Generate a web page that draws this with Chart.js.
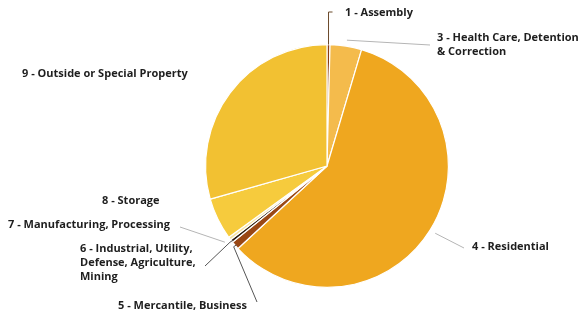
<!DOCTYPE html>
<html>
<head>
<meta charset="utf-8">
<script src="https://cdn.jsdelivr.net/npm/chart.js@4.4.0/dist/chart.umd.min.js"></script>
<style>
  html, body { margin: 0; padding: 0; background: #fff; }
  #wrap { width: 578px; height: 315px; position: relative; }
</style>
</head>
<body>
<div id="wrap"><canvas id="chart"></canvas></div>
<script>
// occupancy categories, clockwise from 12 o'clock
const categories = [
  "1 - Assembly",
  "3 - Health Care, Detention & Correction",
  "4 - Residential",
  "5 - Mercantile, Business",
  "6 - Industrial, Utility, Defense, Agriculture, Mining",
  "7 - Manufacturing, Processing",
  "8 - Storage",
  "9 - Outside or Special Property"
];
// share of fires, percent
const shares = [0.4, 4.2, 58.5, 1.1, 0.4, 0.4, 5.6, 29.4];
const sliceColors = ["#8a3d12", "#f4bb4c", "#efa71f", "#9a4815", "#2b1a0c", "#f6e3a0", "#f6cb3d", "#f2c132"];

// label placement: text lines, left x, first line centre y, leader end (null = none)
const labelSpots = [
  { lines: ["1 - Assembly"], x: 345, y: 13, leader: "top" },
  { lines: ["3 - Health Care, Detention", "& Correction"], x: 437, y: 38, leader: [430, 45], grey: true },
  { lines: ["4 - Residential"], x: 472, y: 247, leader: [464, 248], grey: true },
  { lines: ["5 - Mercantile, Business"], x: 118, y: 306, leader: [257, 302] },
  { lines: ["6 - Industrial, Utility,", "Defense, Agriculture,", "Mining"], x: 80, y: 249, leader: [205, 266] },
  { lines: ["7 - Manufacturing, Processing"], x: 8, y: 225, leader: [180, 227], grey: true },
  { lines: ["8 - Storage"], x: 102, y: 201, leader: null },
  { lines: ["9 - Outside or Special Property"], x: 22, y: 74, leader: null }
];

const labelPlugin = {
  id: "sideLabels",
  afterDatasetsDraw(chart) {
    const ctx = chart.ctx;
    const arcs = chart.getDatasetMeta(0).data;
    ctx.save();
    labelSpots.forEach((spot, i) => {
      const arc = arcs[i];
      const mid = (arc.startAngle + arc.endAngle) / 2;
      const r = arc.outerRadius;
      if (spot.leader === "top") {
        const sx = arc.x + Math.cos(mid) * r;
        const sy = arc.y + Math.sin(mid) * r;
        ctx.strokeStyle = "#6b4a2a";
        ctx.lineWidth = 1;
        ctx.beginPath();
        ctx.moveTo(sx, sy);
        ctx.lineTo(sx, spot.y - 1);
        ctx.lineTo(sx + 4, spot.y - 1);
        ctx.stroke();
      } else if (spot.leader) {
        const off = spot.grey ? 6 : 2;
        const sx = arc.x + Math.cos(mid) * (r + off);
        const sy = arc.y + Math.sin(mid) * (r + off);
        ctx.strokeStyle = spot.grey ? "#b5b5b5" : "#555555";
        ctx.lineWidth = 1;
        ctx.beginPath();
        if (!spot.grey) {
          // little hook at the pie end, like the original
          ctx.moveTo(sx + 3, sy - 2);
          ctx.lineTo(sx, sy);
        } else {
          ctx.moveTo(sx, sy);
        }
        ctx.lineTo(spot.leader[0], spot.leader[1]);
        ctx.stroke();
      }
      ctx.fillStyle = "#1e1e1e";
      ctx.font = "bold 11px 'Open Sans', sans-serif";
      ctx.textBaseline = "middle";
      ctx.textAlign = "left";
      spot.lines.forEach((t, k) => ctx.fillText(t, spot.x, spot.y + k * 14));
    });
    ctx.restore();
  }
};

new Chart(document.getElementById("chart"), {
  type: "pie",
  data: {
    labels: categories,
    datasets: [{
      data: shares,
      backgroundColor: sliceColors,
      borderColor: "#ffffff",
      borderWidth: 1.2
    }]
  },
  options: {
    responsive: true,
    maintainAspectRatio: false,
    animation: false,
    layout: { padding: { left: 205, right: 129, top: 44, bottom: 27 } },
    plugins: {
      legend: { display: false },
      tooltip: { enabled: false }
    }
  },
  plugins: [labelPlugin]
});
</script>
</body>
</html>
